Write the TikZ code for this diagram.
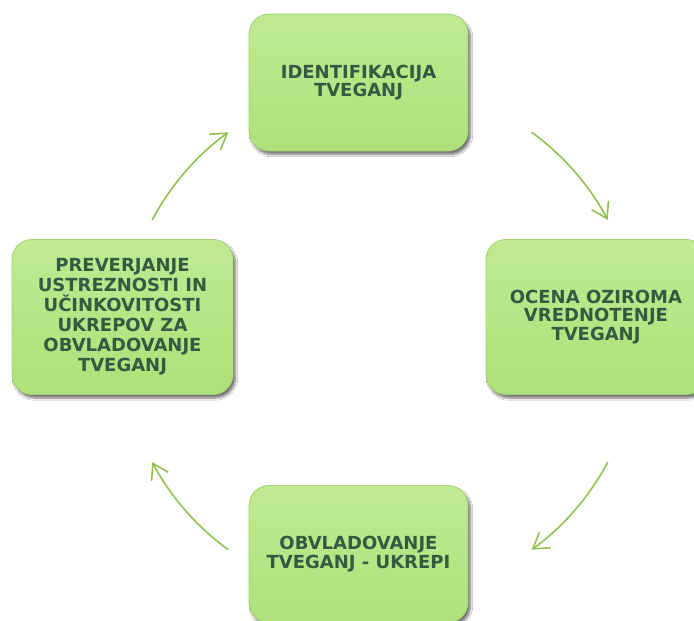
\documentclass[tikz,border=0pt]{standalone}
\usepackage{fontspec}
\setmainfont{DejaVu Sans}
\usetikzlibrary{arrows.meta,shadows.blur,calc}
\definecolor{boxtext}{HTML}{355A41}
\definecolor{boxtop}{HTML}{C0EA93}
\definecolor{boxmid}{HTML}{B4E57F}
\definecolor{boxbot}{HTML}{AEE179}
\definecolor{boxline}{HTML}{A3D270}
\definecolor{flowcol}{HTML}{92C152}
\begin{document}
\begin{tikzpicture}[x=1pt,y=-1pt,
  stage/.style={rectangle, rounded corners=20pt, top color=boxtop, middle color=boxmid, bottom color=boxbot,
    draw=boxline, line width=0.8pt, text=boxtext, align=center, inner sep=0pt,
    blur shadow={shadow xshift=2.5pt, shadow yshift=-3.5pt, shadow blur steps=8, shadow opacity=55}},
  flow/.style={draw=flowcol, line width=1.6pt, -{Straight Barb[length=15pt,width=19pt,line width=1.6pt]}}]
\useasboundingbox (0,0) rectangle (694,621);
\clip (0,0) rectangle (694,621);
\fill[white] (0,0) rectangle (694,621);

\node[stage, minimum width=219pt, minimum height=137pt, font=\fontsize{18}{18.3}\selectfont\bfseries] (ident) at (358.5,82.5) {IDENTIFIKACIJA\\TVEGANJ};
\node[stage, minimum width=220pt, minimum height=155pt, font=\fontsize{18}{18.3}\selectfont\bfseries] (ocena) at (596,317) {OCENA OZIROMA\\VREDNOTENJE\\TVEGANJ};
\node[stage, minimum width=221pt, minimum height=155pt, font=\fontsize{18}{20}\selectfont\bfseries] (prev) at (122.5,317) {PREVERJANJE\\USTREZNOSTI IN\\UČINKOVITOSTI\\UKREPOV ZA\\OBVLADOVANJE\\TVEGANJ};
\node[stage, minimum width=219pt, minimum height=137pt, font=\fontsize{18}{18.3}\selectfont\bfseries] (obvl) at (358.5,554) {OBVLADOVANJE\\TVEGANJ - UKREPI};

\coordinate (c) at (380,341);
\coordinate (a1) at ($(c)+(-54:258)$);
\coordinate (a2) at ($(c)+(28:258)$);
\coordinate (a3) at ($(c)+(126:258)$);
\coordinate (a4) at ($(c)+(-152:258)$);
\draw[flow] (a1) arc[start angle=-54, end angle=-28, radius=258];
\draw[flow] (a2) arc[start angle=28, end angle=54, radius=258];
\draw[flow] (a3) arc[start angle=126, end angle=152, radius=258];
\draw[flow] (a4) arc[start angle=-152, end angle=-126, radius=258];
\end{tikzpicture}
\end{document}
